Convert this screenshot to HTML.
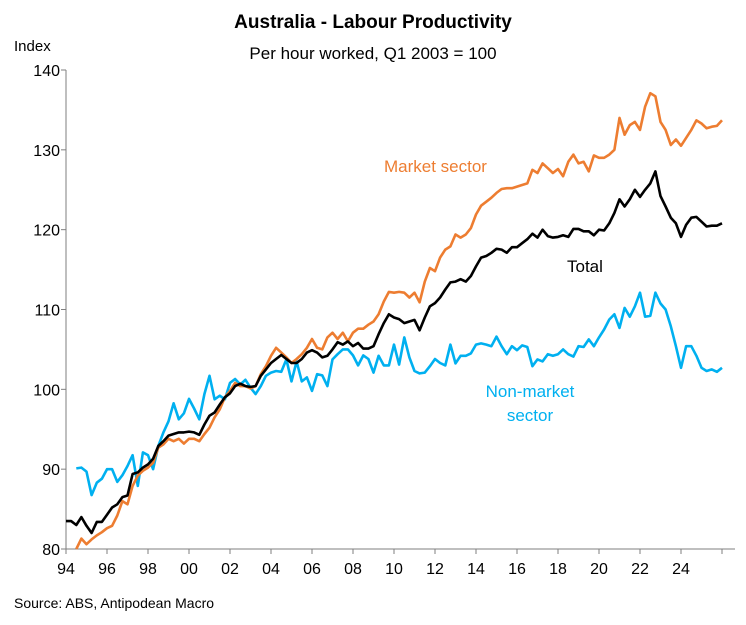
<!DOCTYPE html>
<html><head><meta charset="utf-8"><style>
body{margin:0;background:#fff;}
svg text{font-family:"Liberation Sans",Arial,sans-serif;}
</style></head><body>
<svg width="746" height="620" viewBox="0 0 746 620" id="chart">
<text x="373" y="28" text-anchor="middle" font-size="19" font-weight="bold">Australia - Labour Productivity</text>
<text x="373" y="59" text-anchor="middle" font-size="17">Per hour worked, Q1 2003 = 100</text>
<text x="14" y="51" font-size="15">Index</text>
<text x="14" y="608" font-size="14">Source: ABS, Antipodean Macro</text>
<g id="axes"></g>
<g id="series"></g>
<text x="384" y="172" font-size="17" fill="#ED7D31">Market sector</text>
<text x="567" y="272" font-size="17" fill="#000">Total</text>
<text x="530" y="397" text-anchor="middle" font-size="17" fill="#00B0F0">Non-market</text>
<text x="530" y="421" text-anchor="middle" font-size="17" fill="#00B0F0">sector</text>
</svg>
<script>
const startYear = 1994;
const yTicks = [80, 90, 100, 110, 120, 130, 140];
const xTickYears = [1994,1996,1998,2000,2002,2004,2006,2008,2010,2012,2014,2016,2018,2020,2022,2024];
const xTickLabels = ["94","96","98","00","02","04","06","08","10","12","14","16","18","20","22","24"];
const total = [83.5,83.5,83,84,82.9,82,83.4,83.4,84.3,85.2,85.6,86.5,86.7,89.4,89.6,90.2,90.6,91.3,92.9,93.5,94.2,94.4,94.6,94.6,94.7,94.6,94.3,95.6,96.7,97.1,98.1,99,99.5,100.4,100.7,100.4,100.3,100.4,101.7,102.5,103.3,103.8,104.3,103.8,103.3,103.3,103.8,104.6,104.9,104.6,104,104.2,105,105.9,105.6,106,105.4,105.8,105.1,105.1,105.4,106.9,108.3,109.4,109,
108.8,108.3,108.5,108.7,107.4,109,110.4,110.8,111.5,112.5,113.4,113.5,113.8,113.5,114.2,115.4,116.5,116.7,117.1,117.6,117.5,117.1,117.8,117.8,118.3,118.8,119.5,119,120,119.2,119,119.1,119.3,119.1,120.1,120.1,119.8,119.8,119.3,120,119.9,120.8,122.1,123.8,122.9,123.8,125,124.1,125,125.8,127.3,124.2,122.9,121.5,120.8,119.1,120.6,121.5,121.6,121,120.4,120.5,120.5,120.8];
const market = [null,null,80,81.3,80.6,81.2,81.7,82.1,82.6,82.9,84.2,86,85.6,87.9,89.2,89.8,90.2,90.8,92.7,93.1,93.8,93.5,93.8,93.2,93.8,93.8,93.5,94.4,95.2,96.5,97.5,99,99.8,100.8,100.4,100.4,100.1,100.4,101.9,102.9,104.2,105.2,104.6,104,103.3,103.8,104.4,105.2,106.3,105.2,105,106.5,107.1,106.3,107.1,106,107.1,107.6,107.6,108.1,108.5,109.4,111,112.2,112.1,
112.2,112.1,111.5,112.1,110.9,113.5,115.2,114.8,116.5,117.5,117.9,119.4,119,119.4,120.2,121.9,123,123.5,124,124.6,125.1,125.2,125.2,125.4,125.6,125.8,127.5,127.1,128.3,127.7,127.1,127.6,126.7,128.5,129.4,128.3,128.5,127.3,129.3,129,129,129.4,130,134,131.9,133.1,133.5,132.5,135.4,137.1,136.7,133.5,132.5,130.6,131.3,130.5,131.5,132.5,133.7,133.3,132.7,132.9,133,133.7];
const nonMarket = [null,null,90.1,90.2,89.7,86.75,88.3,88.8,90,90,88.4,89.25,90.4,91.75,87.9,92.1,91.75,90,92.9,94.6,96,98.25,96.25,97,98.8,97.6,96.25,99.4,101.7,98.75,99.2,98.75,100.8,101.3,100.6,101.2,100.2,99.4,100.4,101.7,102.1,102.3,102.2,103.75,101,103.5,101,101.5,99.8,101.9,101.75,100.4,103.75,104.4,105,105,104.25,103,104.25,103.8,102.1,104.2,103,103,105.6,
103.1,106.5,104,102.3,102,102.1,102.9,103.8,103.3,103,105.6,103.25,104.2,104.2,104.5,105.6,105.75,105.6,105.4,106.6,105.4,104.4,105.4,104.9,105.5,105.3,102.9,103.75,103.5,104.4,104.2,104.4,105,104.4,104.1,105.4,105.3,106.25,105.4,106.5,107.5,108.75,109.4,107.7,110.2,109.1,110.4,112.1,109.1,109.2,112.1,110.75,110,107.9,105.4,102.7,105.4,105.4,104.2,102.7,102.3,102.5,102.2,102.7];

const NS="http://www.w3.org/2000/svg";
const X0=66, PX_PER_YEAR=20.5, YTOP=70, YBOT=549, VMIN=80, VMAX=140;
function xScale(year){return X0+(year-1994)*PX_PER_YEAR;}
function yScale(v){return YBOT-(v-VMIN)/(VMAX-VMIN)*(YBOT-YTOP);}
const axes=document.getElementById('axes');
function mk(tag,attrs,parent){const e=document.createElementNS(NS,tag);for(const k in attrs)e.setAttribute(k,attrs[k]);parent.appendChild(e);return e;}
const yAxis=mk('line',{x1:X0,y1:YTOP,x2:X0,y2:YBOT,stroke:'#7f7f7f','stroke-width':1},axes);


const xAxis=mk('line',{x1:X0,y1:YBOT,x2:735,y2:YBOT,stroke:'#7f7f7f','stroke-width':1},axes);


yTicks.forEach(v=>{
  const y=yScale(v);
  mk('line',{x1:X0-5,y1:y,x2:X0,y2:y,stroke:'#7f7f7f'},axes);
  const t=mk('text',{x:X0-6,y:y+6,'text-anchor':'end','font-size':16},axes);
  t.textContent=v;
  
  
});
xTickYears.forEach((yr,i)=>{
  const x=xScale(yr);
  mk('line',{x1:x,y1:YBOT,x2:x,y2:YBOT+5,stroke:'#7f7f7f'},axes);
  const t=mk('text',{x:x,y:YBOT+25,'text-anchor':'middle','font-size':16},axes);
  t.textContent=xTickLabels[i];
  
  
});
mk('line',{x1:xScale(2026),y1:YBOT,x2:xScale(2026),y2:YBOT+5,stroke:'#7f7f7f'},axes);
const sg=document.getElementById('series');
function drawLine(arr,color,name){
  let d='';let pen=false;
  arr.forEach((v,i)=>{
    if(v===null||v===undefined){pen=false;return;}
    const x=xScale(startYear+i*0.25), y=yScale(v);
    d+=(pen?'L':'M')+x.toFixed(1)+' '+y.toFixed(1)+' ';pen=true;
  });
  const p=mk('path',{d:d,fill:'none',stroke:color,'stroke-width':2.6,'stroke-linejoin':'round'},sg);
  
  
}
drawLine(nonMarket,'#00B0F0','non-market-line');
drawLine(market,'#ED7D31','market-sector-line');
drawLine(total,'#000000','total-line');
</script>
</body></html>
